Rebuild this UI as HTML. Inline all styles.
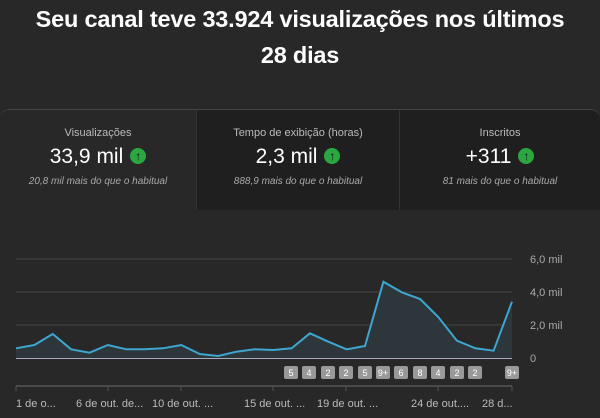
<!DOCTYPE html>
<html><head><meta charset="utf-8"><style>
body{margin:0;width:600px;height:418px;background:#282828;font-family:"Liberation Sans",sans-serif;overflow:hidden;position:relative;color:#fff}
.t{position:absolute;left:0;width:600px;text-align:center;font-weight:bold;font-size:23.5px;color:#fff;letter-spacing:-0.2px}
.cards{position:absolute;left:0;top:109px;width:600px;height:100px;border-top:1px solid #444;border-radius:10px 10px 0 0;display:flex;overflow:hidden}
.c{text-align:center;height:100px;box-sizing:border-box;border-right:1px solid #333}
.c .l{font-size:11px;color:#bbb;margin-top:17px}
.c .v{font-size:21px;margin-top:6px;color:#fff}
.c .s{font-size:10px;font-style:italic;color:#aaa;margin-top:7px}
.up{display:inline-block;width:16px;height:16px;border-radius:50%;background:#2ba640;vertical-align:middle;margin-left:7px;position:relative;top:-1px}
.up:after{content:"↑";position:absolute;left:0;top:0px;width:16px;text-align:center;font-size:12px;line-height:16px;font-weight:bold;color:#111}
</style></head><body>
<div class="t" style="top:6px">Seu canal teve 33.924 visualizações nos últimos</div>
<div class="t" style="top:42px">28 dias</div>
<div class="cards">
<div class="c" style="width:197px;background:#282828"><div class="l">Visualizações</div><div class="v">33,9 mil<span class="up"></span></div><div class="s">20,8 mil mais do que o habitual</div></div>
<div class="c" style="width:203px;background:#1f1f1f"><div class="l">Tempo de exibição (horas)</div><div class="v">2,3 mil<span class="up"></span></div><div class="s">888,9 mais do que o habitual</div></div>
<div class="c" style="width:200px;background:#1f1f1f;border-right:none"><div class="l">Inscritos</div><div class="v">+311<span class="up"></span></div><div class="s">81 mais do que o habitual</div></div>
</div>
<svg width="600" height="418" style="position:absolute;left:0;top:0" font-family="Liberation Sans,sans-serif">
<g stroke="#3a3a3a" stroke-width="1.5"><line x1="16" y1="259" x2="512" y2="259"/><line x1="16" y1="292" x2="512" y2="292"/><line x1="16" y1="325" x2="512" y2="325"/></g>
<g fill="#aaa" font-size="11"><text x="530" y="263">6,0 mil</text><text x="530" y="296">4,0 mil</text><text x="530" y="329">2,0 mil</text><text x="530" y="362">0</text></g>
<polygon fill="#2c363b" points="16,358.5 16,348.3 34.4,345 52.7,334 71.1,349.3 89.5,352.7 107.9,345 126.2,349.3 144.6,349.3 163,348.3 181.3,345 199.7,354 218.1,356 236.4,351.7 254.8,349.3 273.2,350 291.6,348.3 309.9,333.3 328.3,341.7 346.7,349.3 365,346 383.4,281.7 401.8,292.3 420.1,299 438.5,317.3 456.9,340.7 475.3,348.3 493.6,350.7 512,301.7 512,358.5"/>
<polyline fill="none" stroke="#3ea6cf" stroke-width="2" points="16,348.3 34.4,345 52.7,334 71.1,349.3 89.5,352.7 107.9,345 126.2,349.3 144.6,349.3 163,348.3 181.3,345 199.7,354 218.1,356 236.4,351.7 254.8,349.3 273.2,350 291.6,348.3 309.9,333.3 328.3,341.7 346.7,349.3 365,346 383.4,281.7 401.8,292.3 420.1,299 438.5,317.3 456.9,340.7 475.3,348.3 493.6,350.7 512,301.7"/>
<line x1="16" y1="358.5" x2="512" y2="358.5" stroke="#aab" stroke-width="1"/>
<g font-size="9" fill="#fff" text-anchor="middle">
<g fill="#999"><rect x="284" y="366" width="14" height="13" rx="2"/><rect x="302" y="366" width="14" height="13" rx="2"/><rect x="321" y="366" width="14" height="13" rx="2"/><rect x="339" y="366" width="14" height="13" rx="2"/><rect x="358" y="366" width="14" height="13" rx="2"/><rect x="376" y="366" width="14" height="13" rx="2"/><rect x="394" y="366" width="14" height="13" rx="2"/><rect x="413" y="366" width="14" height="13" rx="2"/><rect x="431" y="366" width="14" height="13" rx="2"/><rect x="450" y="366" width="14" height="13" rx="2"/><rect x="468" y="366" width="14" height="13" rx="2"/><rect x="505" y="366" width="14" height="13" rx="2"/></g>
<text x="291" y="376">5</text><text x="309" y="376">4</text><text x="328" y="376">2</text><text x="346" y="376">2</text><text x="365" y="376">5</text><text x="383" y="376">9+</text><text x="401" y="376">6</text><text x="420" y="376">8</text><text x="438" y="376">4</text><text x="457" y="376">2</text><text x="475" y="376">2</text><text x="512" y="376">9+</text></g>
<line x1="16" y1="386" x2="512" y2="386" stroke="#555" stroke-width="1.5"/>
<g stroke="#555"><line x1="16" y1="386" x2="16" y2="391"/><line x1="108" y1="386" x2="108" y2="391"/><line x1="181" y1="386" x2="181" y2="391"/><line x1="273" y1="386" x2="273" y2="391"/><line x1="346" y1="386" x2="346" y2="391"/><line x1="438" y1="386" x2="438" y2="391"/><line x1="512" y1="386" x2="512" y2="391"/></g>
<g fill="#bbb" font-size="11"><text x="16" y="407">1 de o...</text><text x="76" y="407">6 de out. de...</text><text x="152" y="407">10 de out. ...</text><text x="244" y="407">15 de out. ...</text><text x="317" y="407">19 de out. ...</text><text x="411" y="407">24 de out....</text><text x="482" y="407">28 d...</text></g>
</svg>
</body></html>
